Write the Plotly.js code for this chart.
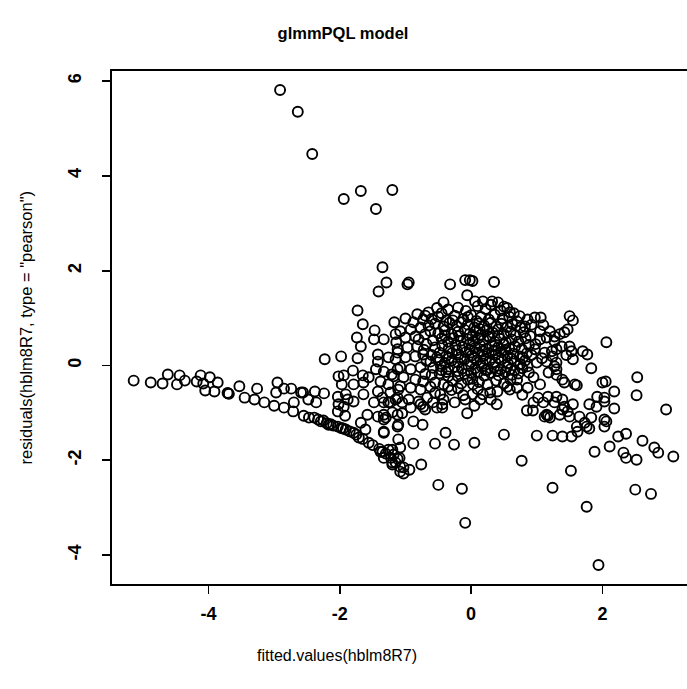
<!DOCTYPE html>
<html>
<head>
<meta charset="utf-8">
<script src="https://cdn.plot.ly/plotly-3.0.1.min.js"></script>
<style>
html,body{margin:0;padding:0;overflow:hidden;background:#fff;}
#plot{width:707px;height:689px;}
</style>
</head>
<body>
<div id="plot"></div>
<script>
// fitted.values vs pearson residuals
const outliers = [[-2.91,5.81],[-2.64,5.35],[-2.42,4.46],[-1.94,3.51],[-1.68,3.68],[-1.45,3.30],[-1.20,3.70],
  [-1.35,2.07],[-1.29,1.75],[-1.41,1.56],[-0.97,1.71],[-0.32,1.71],[-0.09,1.80],[-0.02,1.80],[0.35,1.76],
  [-0.06,1.48],[0.02,1.78]];
const tail = [[-5.14,-0.32],[-4.88,-0.36],[-4.70,-0.38],[-4.62,-0.19],[-4.48,-0.40],[-4.44,-0.21],[-4.36,-0.32],
  [-4.18,-0.34],[-4.12,-0.21],[-4.08,-0.38],[-3.98,-0.25],[-4.05,-0.53],[-3.91,-0.55],[-3.86,-0.36],
  [-3.70,-0.59],[-3.69,-0.60],[-3.71,-0.58],[-3.53,-0.44],[-3.45,-0.68],[-3.30,-0.72],[-3.26,-0.49],
  [-3.15,-0.78],[-3.00,-0.85],[-2.95,-0.36],[-2.97,-0.57],[-2.85,-0.49],[-2.74,-0.49],[-2.85,-0.89],
  [-2.71,-0.97],[-2.70,-0.78],[-2.56,-0.57],[-2.55,-1.06],[-2.47,-1.10]];
const leftGroup = [[-1.73,1.16],[-1.65,0.87],[-1.47,0.74],[-1.17,0.91],[-1.74,0.59],[-1.68,0.40],[-1.48,0.55],
  [-1.33,0.55],[-1.15,0.66],[-1.14,0.49],[-2.23,0.13],[-1.98,0.19],[-1.73,0.15],[-1.42,0.23],[-1.42,0.08],
  [-1.26,0.17],[-1.12,0.27],[-1.80,-0.11],[-2.02,-0.23],[-1.94,-0.21],[-1.65,-0.21],[-1.56,-0.25],
  [-1.45,-0.08],[-1.33,-0.13],[-1.21,-0.19],[-1.12,-0.08],[-1.97,-0.40],[-1.79,-0.40],[-1.64,-0.36],
  [-1.38,-0.34],[-1.26,-0.40],[-2.59,-0.57],[-2.38,-0.55],[-2.24,-0.59],[-2.48,-0.72],[-2.36,-0.78],
  [-2.03,-0.66],[-1.91,-0.61],[-1.88,-0.72],[-1.79,-0.76],[-1.64,-0.61],[-1.42,-0.55],[-1.35,-0.68],
  [-1.23,-0.57],[-1.11,-0.51],[-2.02,-0.82],[-1.94,-0.87],[-1.48,-0.78],[-1.26,-0.78],[-1.15,-0.72],
  [-2.03,-0.97],[-1.92,-1.06],[-1.58,-1.04],[-1.42,-1.08],[-1.30,-1.10],[-1.12,-1.04]];
const band = [[-2.39,-1.10],[-2.29,-1.18],[-2.17,-1.25],[-2.03,-1.29],[-1.91,-1.35],[-1.79,-1.42],[-1.71,-1.52],
  [-1.68,-1.21],[-1.61,-1.35],[-1.56,-1.63],[-1.33,-1.42],[-1.12,-1.29],[-1.38,-1.82],[-1.26,-1.78],
  [-1.18,-1.88],[-1.20,-2.05],[-1.09,-1.95],[-1.08,-2.24],[-2.33,-1.14],[-2.20,-1.22],[-2.10,-1.27],
  [-1.98,-1.32],[-1.85,-1.39],[-1.75,-1.46],[-1.65,-1.55],[-1.50,-1.68],[-1.40,-1.76],[-1.30,-1.86],
  [-1.22,-1.95],[-1.15,-2.05],[-1.03,-2.15],[-2.25,-1.16],[-2.14,-1.24],[-1.95,-1.33]];
const lowerMid = [[-1.33,-0.78],[-1.23,-0.78],[-1.05,-0.78],[-0.92,-0.89],[-0.77,-0.82],[-0.70,-0.93],
  [-0.58,-0.78],[-0.44,-0.82],[-0.44,-0.89],[-1.33,-1.04],[-1.20,-0.99],[-1.05,-1.01],[-0.09,-0.72],
  [0.14,-0.72],[-0.06,-1.01],[-1.33,-1.14],[-1.11,-1.25],[-0.88,-1.18],[-0.74,-1.25],[-0.39,-1.42],
  [0.50,-1.46],[-1.33,-1.40],[-1.11,-1.56],[-0.88,-1.65],[-0.55,-1.65],[-0.26,-1.67],[0.05,-1.63],
  [-1.35,-1.82],[-1.20,-1.78],[-1.08,-1.73],[-1.33,-1.95],[-1.12,-1.97],[-1.20,-2.09],[-1.08,-2.14],
  [-0.94,-2.20],[-0.76,-2.09],[-1.03,-2.28],[0.77,-2.01],[-0.50,-2.52],[-0.14,-2.60],[-0.09,-3.32]];
const cluster = [[-0.95,1.75],[-0.42,1.33],[-0.52,1.21],[-0.65,1.12],[-0.82,1.08],[-1.00,0.99],[-0.88,0.91],
  [-0.73,0.97],[-1.08,0.72],[-0.92,0.76],[-0.77,0.80],[-1.00,0.59],[-0.85,0.61],[-0.70,0.66],[-1.12,0.34],
  [-0.97,0.38],[-0.82,0.40],[-1.15,0.13],[-1.00,0.17],[-0.85,0.19],[-0.73,0.23],[-1.08,-0.04],[-0.92,-0.08],
  [-0.77,-0.04],[-1.18,-0.23],[-1.03,-0.25],[-0.85,-0.30],[-0.73,-0.34],[-1.08,-0.44],[-0.92,-0.47],
  [-0.77,-0.51],[-1.12,-0.68],[-0.95,-0.72],[-0.80,-0.76],[-0.67,-0.68],[-0.47,-0.61],[-0.42,-0.72],
  [-0.12,-0.63],[0.02,-0.61],[-0.73,-0.87],[-0.52,-0.89],[-0.35,-0.23],[-0.20,-0.23],[-0.05,-0.30],
  [0.03,-0.40],[0.06,1.35],[0.18,1.35],[0.32,1.35],[0.41,1.33],[0.55,1.21],[0.59,1.12],[0.74,1.04],
  [0.97,1.01],[1.06,1.01],[0.82,0.82],[1.05,0.72],[1.05,0.55],[1.15,0.59],[1.27,0.51],[0.97,0.34],
  [1.12,0.27],[1.23,0.30],[1.00,0.06],[1.15,0.08],[1.27,-0.02],[0.79,0.17],[0.86,-0.02],[0.59,-0.51],
  [0.86,-0.47],[1.02,-0.68],[1.17,-0.66],[0.39,-0.82],[1.15,-1.04],[0.18,-0.61],[0.29,-0.57],[0.70,-0.47]];
const core = [[-0.35,1.18],[-0.20,1.22],[-0.08,1.15],[0.10,1.25],[0.22,1.19],[0.30,1.28],[0.45,1.16],[0.50,1.24],
  [0.65,1.10],[-0.45,1.10],[-0.60,0.98],[-0.50,1.03],[-0.38,0.95],[-0.25,1.05],[-0.12,0.98],[0.00,1.06],
  [0.08,0.94],[0.15,1.02],[0.27,0.97],[0.36,1.07],[0.48,0.99],[0.58,1.03],[0.70,0.93],[0.86,0.97],[-0.70,1.05],
  [-0.65,0.84],[-0.55,0.88],[-0.42,0.82],[-0.33,0.90],[-0.22,0.83],[-0.15,0.91],[-0.05,0.86],[0.05,0.80],
  [0.12,0.89],[0.20,0.84],[0.30,0.90],[0.38,0.82],[0.46,0.88],[0.55,0.81],[0.63,0.87],[0.75,0.80],[0.92,0.86],
  [-0.62,0.72],[-0.50,0.68],[-0.40,0.74],[-0.30,0.66],[-0.20,0.71],[-0.10,0.75],[-0.02,0.67],[0.07,0.72],
  [0.15,0.65],[0.24,0.74],[0.33,0.69],[0.41,0.76],[0.50,0.66],[0.60,0.71],[0.68,0.64],[0.80,0.70],[0.90,0.62],
  [-0.58,0.53],[-0.45,0.57],[-0.35,0.50],[-0.27,0.58],[-0.16,0.52],[-0.06,0.56],[0.03,0.50],[0.11,0.58],
  [0.19,0.53],[0.28,0.59],[0.36,0.50],[0.44,0.56],[0.53,0.49],[0.62,0.55],[0.72,0.50],[0.83,0.57],[-0.68,0.45],
  [-0.55,0.38],[-0.44,0.42],[-0.34,0.36],[-0.24,0.43],[-0.13,0.39],[-0.03,0.44],[0.06,0.37],[0.14,0.42],
  [0.23,0.35],[0.32,0.41],[0.41,0.38],[0.50,0.44],[0.58,0.36],[0.67,0.40],[0.77,0.35],[0.88,0.43],
  [-0.60,0.22],[-0.48,0.27],[-0.38,0.20],[-0.29,0.26],[-0.19,0.23],[-0.08,0.28],[0.01,0.21],[0.10,0.27],
  [0.19,0.20],[0.27,0.26],[0.37,0.22],[0.46,0.28],[0.55,0.20],[0.64,0.25],[0.74,0.19],[0.85,0.26],
  [-0.62,0.08],[-0.50,0.12],[-0.40,0.05],[-0.30,0.10],[-0.20,0.06],[-0.10,0.13],[0.00,0.07],[0.09,0.11],
  [0.18,0.04],[0.28,0.10],[0.37,0.06],[0.46,0.12],[0.56,0.04],[0.66,0.09],[0.75,0.03],
  [-0.58,-0.05],[-0.46,-0.02],[-0.35,-0.08],[-0.25,-0.03],[-0.14,-0.07],[-0.04,-0.01],[0.06,-0.06],
  [0.16,-0.02],[0.25,-0.09],[0.35,-0.04],[0.45,-0.08],[0.55,-0.03],[0.66,-0.10],[0.78,-0.06],
  [-0.60,-0.20],[-0.48,-0.17],[-0.38,-0.14],[-0.10,-0.18],[0.10,-0.15],[0.20,-0.22],[0.30,-0.16],
  [0.42,-0.21],[0.52,-0.14],[0.62,-0.20],[0.72,-0.17],[-0.55,-0.36],[-0.42,-0.40],[-0.28,-0.33],
  [-0.15,-0.38],[0.12,-0.35],[0.25,-0.40],[0.38,-0.32],[0.50,-0.38],[0.60,-0.30],[-0.62,-0.45],
  [-0.30,-0.52],[-0.20,-0.48],[0.10,-0.50],[0.40,-0.55],[-0.55,-0.58],[0.78,-0.62],[0.30,-0.72],
  [-0.25,-0.78],[0.05,-0.85],[1.10,0.85],[1.20,0.72],[0.98,0.45],[1.08,0.15],[1.18,-0.15],[0.95,-0.25],
  [1.05,-0.40],[1.30,-0.20],[1.38,0.40],[1.45,0.22],[1.10,-0.78],[0.95,-0.78]];
const coreExtra = [[-0.28,0.95],[-0.05,1.02],[0.13,0.77],[0.26,0.62],[0.42,0.63],[0.02,0.62],[-0.18,0.62],
  [-0.40,0.63],[0.35,0.32],[0.17,0.30],[-0.02,0.33],[-0.22,0.32],[0.52,0.33],[0.62,0.14],[0.42,0.16],
  [0.22,0.13],[0.04,0.16],[-0.16,0.17],[-0.34,0.15],[-0.52,0.17],[-0.45,-0.10],[-0.20,-0.12],[0.00,-0.16],
  [0.22,-0.10],[0.40,-0.12],[0.60,-0.08],[-0.70,-0.18],[-0.68,0.10],[-0.72,0.33],[-0.80,0.55],
  [0.82,0.10],[0.88,-0.15],[0.70,-0.30],[-0.35,-0.45],[0.02,-0.28],[0.55,-0.45],[0.92,0.22]];
const rightGroup = [[1.50,1.04],[1.55,0.95],[1.47,0.76],[1.42,0.70],[1.35,0.66],[1.27,0.61],[2.06,0.49],
  [1.70,0.30],[1.77,0.23],[1.50,0.40],[1.53,0.30],[1.55,0.13],[1.30,0.34],[1.24,0.19],[1.30,0.06],
  [1.83,-0.06],[1.30,-0.08],[2.53,-0.25],[1.39,-0.30],[1.42,-0.36],[1.58,-0.40],[1.61,-0.42],[2.00,-0.36],
  [2.05,-0.34],[2.18,-0.55],[2.52,-0.63],[1.92,-0.66],[2.03,-0.68],[1.30,-0.66],[1.39,-0.72],[1.55,-0.82],
  [1.27,-0.78],[1.42,-0.87],[1.80,-0.82],[1.91,-0.87],[2.18,-0.91],[2.97,-0.93],[1.65,-1.08],[1.83,-1.10],
  [2.03,-1.14],[1.35,-1.04],[1.50,-1.08],[1.61,-1.29],[1.76,-1.29],[2.03,-1.29],[0.85,-0.95],[0.94,-0.95],
  [1.12,-1.08],[1.17,-1.06],[1.20,-1.10],[1.39,-0.93],[1.47,-0.97],[1.73,-1.21],[2.03,-0.76],[2.06,-1.18],
  [1.80,-1.33],[1.62,-1.40],[1.00,-1.48],[1.24,-1.48],[1.39,-1.50],[1.53,-1.50],[1.88,-1.82],[2.11,-1.71],
  [2.24,-1.50],[2.36,-1.44],[2.32,-1.84],[2.36,-1.95],[2.52,-1.99],[2.61,-1.59],[2.79,-1.73],[2.85,-1.84],
  [3.08,-1.92],[1.52,-2.22],[1.24,-2.58],[2.50,-2.62],[2.74,-2.71],[1.76,-2.98],[1.94,-4.21]];

const xTicks = [-4, -2, 0, 2];
const yTicks = [-4, -2, 0, 2, 4, 6];

const groups = [outliers, tail, leftGroup, band, lowerMid, cluster, core, coreExtra, rightGroup];
const fitted = [], resid = [];
groups.forEach(g => g.forEach(p => { fitted.push(p[0]); resid.push(p[1]); }));

const font = 'Liberation Sans, Arial, sans-serif';
const trace = {
  x: fitted, y: resid, type: 'scatter', mode: 'markers',
  marker: {symbol: 'circle-open', size: 10, color: '#000', line: {width: 1.9, color: '#000'}},
  hoverinfo: 'skip'
};
const layout = {
  width: 707, height: 689,
  margin: {l: 112, r: 12, t: 71, b: 105},
  paper_bgcolor: '#fff', plot_bgcolor: '#fff',
  showlegend: false,
  title: {text: '<b>glmmPQL model</b>', font: {family: font, size: 16.5, color: '#000'},
          x: 343/707, xref: 'container', xanchor: 'center', y: 1 - 33/689, yref: 'container', yanchor: 'middle'},
  xaxis: {range: [-5.47, 3.41], tickvals: xTicks, ticktext: xTicks.map(String), ticks: 'outside', ticklen: 8,
          tickwidth: 1.8, tickcolor: '#000', showline: true, linecolor: '#000', linewidth: 1.8, mirror: true,
          showgrid: false, zeroline: false, ticklabelstandoff: 5,
          tickfont: {family: font, size: 18, color: '#000', weight: 'bold'}},
  yaxis: {range: [-4.61, 6.21], tickvals: yTicks, ticktext: yTicks.map(String), ticks: 'outside', ticklen: 8,
          tickwidth: 1.8, tickcolor: '#000', showline: true, linecolor: '#000', linewidth: 1.8, mirror: false,
          showgrid: false, zeroline: false, tickangle: -90, ticklabelstandoff: 14,
          tickfont: {family: font, size: 18, color: '#000', weight: 'bold'}},
  annotations: [
    {text: 'fitted.values(hblm8R7)', xref: 'paper', yref: 'paper', x: (337-112)/583, y: -(655-584)/513,
     xanchor: 'center', yanchor: 'middle', showarrow: false, font: {family: font, size: 16, color: '#000'}},
    {text: 'residuals(hblm8R7, type = "pearson")', xref: 'paper', yref: 'paper', x: -(112-25)/583, y: 0.5,
     xanchor: 'center', yanchor: 'middle', textangle: -90, showarrow: false, font: {family: font, size: 16.5, color: '#000'}}
  ]
};
Plotly.newPlot('plot', [trace], layout, {staticPlot: true, displayModeBar: false});
</script>
</body>
</html>
